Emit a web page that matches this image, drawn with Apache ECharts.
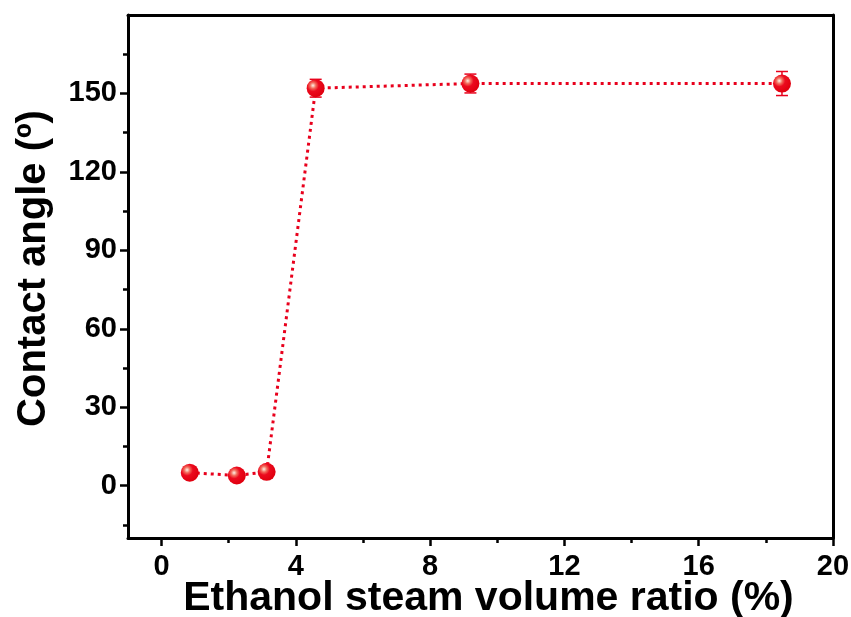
<!DOCTYPE html>
<html>
<head>
<meta charset="utf-8">
<script src="https://cdn.jsdelivr.net/npm/echarts@6/dist/echarts.min.js"></script>
<style>
  html, body { margin: 0; padding: 0; background: #fff; }
  #chart { width: 851px; height: 617px; }
</style>
</head>
<body>
<div id="chart"></div>
<script>
// Contact angle versus ethanol steam volume ratio
const ratio = [0.84, 2.24, 3.13, 4.59, 9.2, 18.48];
const angle = [5.0, 3.9, 5.3, 152.0, 153.8, 153.8];
const angleErr = [2.2, 2.2, 2.2, 3.4, 3.6, 4.6];
const xTicks = [0, 4, 8, 12, 16, 20];
const xMinorTicks = [2, 6, 10, 14, 18];
const yTicks = [0, 30, 60, 90, 120, 150];
const yMinorTicks = [-15, 15, 45, 75, 105, 135, 165];

const font = 'Liberation Sans, Arial, sans-serif';
const red = '#e8001c';
const X_MIN = -1, X_MAX = 20, Y_MIN = -20, Y_MAX = 180;

const points = ratio.map((x, i) => [x, angle[i]]);
const errData = ratio.map((x, i) => [x, angle[i] - angleErr[i], angle[i] + angleErr[i]]);

const chart = echarts.init(document.getElementById('chart'), null, { renderer: 'canvas' });

const labelStyle = { color: '#000', fontFamily: font, fontWeight: 'bold', fontSize: 29 };
const nameStyle = { color: '#000', fontFamily: font, fontWeight: 'bold', fontSize: 41, padding: [0, 0, 0, 16] };
const lineStyle = { color: '#000', width: 3 };

// main axis: line, major ticks and labels
function majorAxis(min, max, ticks, position, margin, extra) {
  return {
    type: 'value', min, max, position,
    axisLine: { show: true, onZero: false, lineStyle },
    axisTick: { show: true, inside: false, length: 8, customValues: ticks, lineStyle: { color: '#000', width: 2.5 } },
    axisLabel: { ...labelStyle, margin, customValues: ticks },
    splitLine: { show: false },
    ...extra
  };
}
// overlay axis holding only the short minor ticks
function minorAxis(min, max, ticks, position) {
  return {
    type: 'value', min, max, position,
    axisLine: { show: false, onZero: false },
    axisTick: { show: true, inside: false, length: 5, customValues: ticks, lineStyle: { color: '#000', width: 2.5 } },
    axisLabel: { show: false },
    splitLine: { show: false }
  };
}
// plain frame edge on the opposite side
function frameAxis(min, max, position) {
  return {
    type: 'value', min, max, position,
    axisLine: { show: true, onZero: false, lineStyle },
    axisTick: { show: false }, axisLabel: { show: false }, splitLine: { show: false }
  };
}

chart.setOption({
  animation: false,
  grid: { left: 128, right: 18, top: 15, bottom: 79, show: false, containLabel: false, outerBoundsMode: 'none' },
  xAxis: [
    majorAxis(X_MIN, X_MAX, xTicks, 'bottom', 14, {
      name: 'Ethanol steam volume ratio (%)',
      nameLocation: 'middle', nameGap: 40, nameMoveOverlap: false,
      nameTextStyle: nameStyle
    }),
    minorAxis(X_MIN, X_MAX, xMinorTicks, 'bottom'),
    frameAxis(X_MIN, X_MAX, 'top')
  ],
  yAxis: [
    majorAxis(Y_MIN, Y_MAX, yTicks, 'left', 11, {
      name: 'Contact angle (º)',
      nameLocation: 'middle', nameGap: 74,
      nameTextStyle: { ...nameStyle, fontSize: 40 }
    }),
    minorAxis(Y_MIN, Y_MAX, yMinorTicks, 'left'),
    frameAxis(Y_MIN, Y_MAX, 'right')
  ],
  series: [{
    type: 'line',
    data: points,
    symbol: 'circle',
    symbolSize: 18,
    lineStyle: { color: red, width: 3, type: [3, 4] },
    itemStyle: {
      color: {
        type: 'radial', x: 0.35, y: 0.35, r: 0.65,
        colorStops: [
          { offset: 0, color: '#fff3e6' },
          { offset: 0.25, color: '#f26a5a' },
          { offset: 0.5, color: '#ec0a1e' },
          { offset: 1, color: '#e0000f' }
        ]
      },
      borderWidth: 0
    },
    z: 3
  }, {
    type: 'custom',
    data: errData,
    z: 2,
    renderItem: (params, api) => {
      const x = api.value(0);
      const lo = api.coord([x, api.value(1)]);
      const hi = api.coord([x, api.value(2)]);
      const w = 6;
      const style = { stroke: red, lineWidth: 1.5 };
      return {
        type: 'group',
        children: [
          { type: 'line', shape: { x1: lo[0], y1: lo[1], x2: hi[0], y2: hi[1] }, style },
          { type: 'line', shape: { x1: lo[0] - w, y1: lo[1], x2: lo[0] + w, y2: lo[1] }, style },
          { type: 'line', shape: { x1: hi[0] - w, y1: hi[1], x2: hi[0] + w, y2: hi[1] }, style }
        ]
      };
    }
  }]
});
</script>
</body>
</html>
